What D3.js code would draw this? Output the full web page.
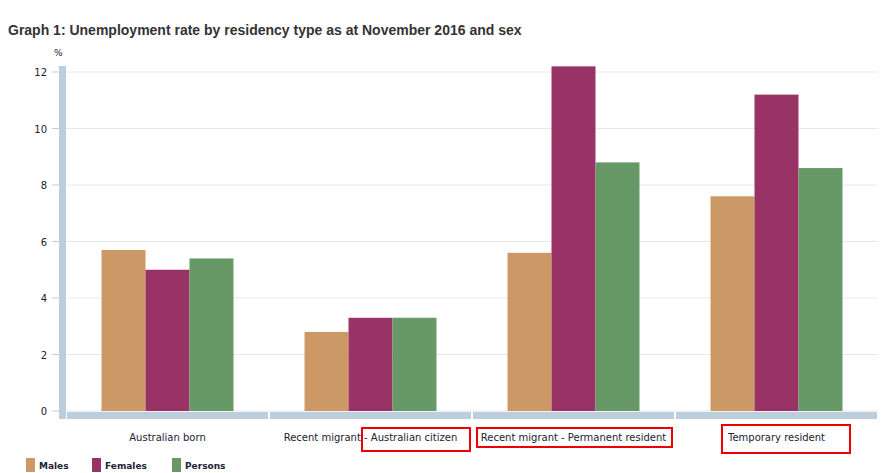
<!DOCTYPE html>
<html><head><meta charset="utf-8">
<script src="https://cdn.jsdelivr.net/npm/d3@7"></script>
<style>body{margin:0;background:#fff;font-family:Verdana,"DejaVu Sans",sans-serif;}</style>
</head><body>
<script>
var categories = ["Australian born", "Recent migrant - Australian citizen", "Recent migrant - Permanent resident", "Temporary resident"];
var seriesNames = ["Males", "Females", "Persons"];
var colors = ["#cc9966", "#993366", "#669966"];
var males = [5.7, 2.8, 5.6, 7.6];
var females = [5.0, 3.3, 12.2, 11.2];
var persons = [5.4, 3.3, 8.8, 8.6];
var yTicks = [0, 2, 4, 6, 8, 10, 12];

var series = [males, females, persons];
var svg = d3.select('body').append('svg').attr('width', 885).attr('height', 473);

svg.append('text').attr('x', 8).attr('y', 35).attr('font-family', 'Arial, "Liberation Sans", sans-serif')
   .attr('font-weight', 'bold').attr('font-size', 14).attr('fill', '#333')
   .text('Graph 1: Unemployment rate by residency type as at November 2016 and sex');

var x = d3.scaleBand().domain(categories).range([66, 878]);
var y = d3.scaleLinear().domain([0, 12]).range([411, 72]);

// grid
svg.selectAll('line.grid').data(yTicks).enter().append('line')
   .attr('x1', 66).attr('x2', 878).attr('y1', function (d) { return y(d); }).attr('y2', function (d) { return y(d); })
   .attr('stroke', '#e8e8e8');

// y axis band + ticks
svg.append('rect').attr('x', 59).attr('y', 66).attr('width', 7).attr('height', 353).attr('fill', '#bccddb');
svg.selectAll('line.tick').data(yTicks).enter().append('line')
   .attr('x1', 52).attr('x2', 59).attr('y1', function (d) { return y(d); }).attr('y2', function (d) { return y(d); })
   .attr('stroke', '#bccddb');
svg.selectAll('text.yl').data(yTicks).enter().append('text')
   .attr('x', 47).attr('y', function (d) { return y(d) + 4; }).attr('text-anchor', 'end')
   .attr('font-size', 10).attr('fill', '#223').text(function (d) { return d; });
svg.append('text').attr('x', 54).attr('y', 56).attr('font-size', 9).attr('fill', '#223').text('%');

// bars
var inner = d3.scaleBand().domain(d3.range(series.length)).range([0, x.bandwidth() * 0.65]);
var off = x.bandwidth() * 0.175;
series.forEach(function (vals, s) {
  svg.selectAll('rect.s' + s).data(vals).enter().append('rect')
     .attr('x', function (d, i) { return x(categories[i]) + off + inner(s); })
     .attr('y', function (d) { return y(d); })
     .attr('width', inner.bandwidth())
     .attr('height', function (d) { return y(0) - y(d); })
     .attr('fill', colors[s]);
});

// x axis segments
svg.selectAll('rect.xa').data(categories).enter().append('rect')
   .attr('x', function (d) { return x(d) + 1; }).attr('y', 412).attr('width', x.bandwidth() - 2).attr('height', 7)
   .attr('fill', '#bccddb');
svg.selectAll('text.xl').data(categories).enter().append('text')
   .attr('x', function (d) { return x(d) + x.bandwidth() / 2; }).attr('y', 441).attr('text-anchor', 'middle')
   .attr('font-size', 10).attr('fill', '#223').text(function (d) { return d; });

// annotation boxes
[[362, 428, 108, 23], [477, 428, 195, 19], [722, 425, 128, 28]].forEach(function (b) {
  svg.append('rect').attr('x', b[0]).attr('y', b[1]).attr('width', b[2]).attr('height', b[3])
     .attr('fill', 'none').attr('stroke', '#e00').attr('stroke-width', 2);
});

// legend
var lx = [26, 92, 172];
seriesNames.forEach(function (n, i) {
  svg.append('rect').attr('x', lx[i]).attr('y', 458).attr('width', 9).attr('height', 14).attr('fill', colors[i]);
  svg.append('text').attr('x', lx[i] + 13).attr('y', 469).attr('font-size', 9).attr('font-weight', 'bold')
     .attr('fill', '#223').text(n);
});
</script>
</body></html>
